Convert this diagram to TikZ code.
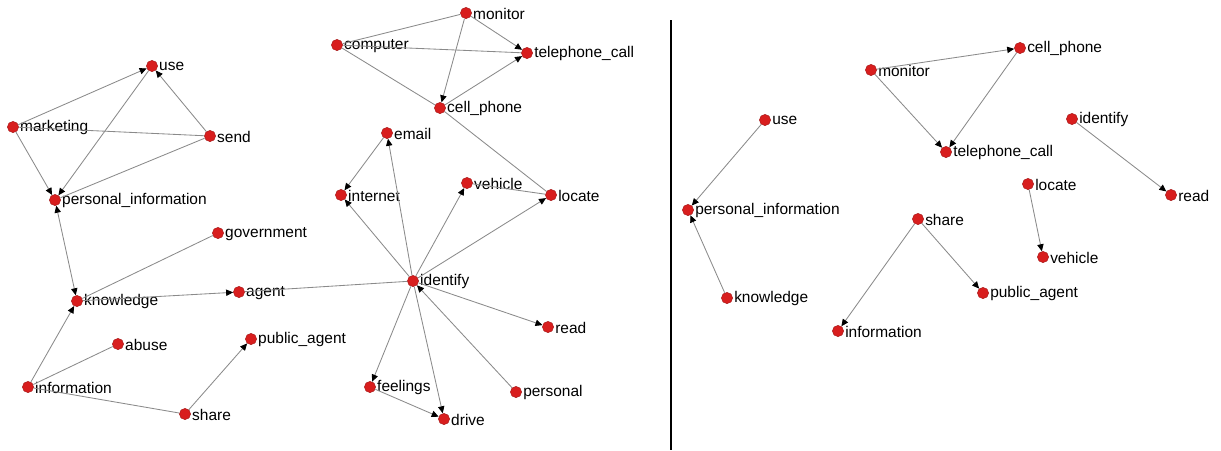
\documentclass[tikz,border=0pt]{standalone}
\usepackage{fontspec}
\setmainfont{Liberation Sans}
\usetikzlibrary{arrows.meta}
\usepackage{xcolor}
\definecolor{ndred}{HTML}{D81E1E}
\definecolor{ndedge}{HTML}{8A8A8A}

\begin{document}
\begin{tikzpicture}[x=0.025cm, y=-0.025cm, font=\fontsize{11}{13}\selectfont,
    vert/.style={circle, fill=ndred, draw=ndred!75!black, line width=0.3pt,
      inner sep=0pt, minimum size=8pt},
    lbl/.style={inner sep=0.8pt, text=black, yshift=-0.5pt},
    tie/.style={draw=ndedge, line width=0.6pt},
    arc/.style={tie, -{Triangle[length=5pt, width=4.5pt, color=black]}},
    arcs/.style={tie, {Triangle[length=5pt, width=4.5pt, color=black]}-{Triangle[length=5pt, width=4.5pt, color=black]}}]
    \useasboundingbox (0,0) rectangle (1221,450);

    % left network
    \node[vert, label={[lbl]right:use}] (use) at (152,66) {};
    \node[vert, label={[lbl]right:marketing}] (marketing) at (13,127) {};
    \node[vert, label={[lbl]right:send}] (send) at (210,136) {};
    \node[vert, label={[lbl]right:personal\_information}] (persinfo) at (55,200) {};
    \node[vert, label={[lbl]right:government}] (government) at (218,233) {};
    \node[vert, label={[lbl]right:knowledge}] (knowledge) at (77,301) {};
    \node[vert, label={[lbl]right:agent}] (agent) at (239,292) {};
    \node[vert, label={[lbl]right:abuse}] (abuse) at (118,344) {};
    \node[vert, label={[lbl]right:information}] (information) at (28,387) {};
    \node[vert, label={[lbl]right:share}] (share) at (185,414) {};
    \node[vert, label={[lbl]right:public\_agent}] (pubagent) at (251,339) {};
    \node[vert, label={[lbl]right:monitor}] (monitor) at (466,13) {};
    \node[vert, label={[lbl]right:computer}] (computer) at (337,45) {};
    \node[vert, label={[lbl]right:telephone\_call}] (telcall) at (527,53) {};
    \node[vert, label={[lbl]right:cell\_phone}] (cellphone) at (440,108) {};
    \node[vert, label={[lbl]right:email}] (email) at (387,133) {};
    \node[vert, label={[lbl]right:internet}] (internet) at (341,195) {};
    \node[vert, label={[lbl]right:vehicle}] (vehicle) at (467,183) {};
    \node[vert, label={[lbl]right:locate}] (locate) at (551,195) {};
    \node[vert, label={[lbl]right:identify}] (identify) at (413,281) {};
    \node[vert, label={[lbl]right:read}] (read) at (548,327) {};
    \node[vert, label={[lbl]right:feelings}] (feelings) at (370,387) {};
    \node[vert, label={[lbl]right:drive}] (drive) at (444,419) {};
    \node[vert, label={[lbl]right:personal}] (personal) at (516,392) {};

    \draw[arc] (marketing) -- (use);
    \draw[arc] (send) -- (use);
    \draw[tie] (marketing) -- (send);
    \draw[arc] (marketing) -- (persinfo);
    \draw[arc] (use) -- (persinfo);
    \draw[tie] (send) -- (persinfo);
    \draw[arcs] (persinfo) -- (knowledge);
    \draw[tie] (knowledge) -- (government);
    \draw[arc] (knowledge) -- (agent);
    \draw[tie] (agent) -- (identify);
    \draw[arc] (information) -- (knowledge);
    \draw[tie] (information) -- (abuse);
    \draw[tie] (information) -- (share);
    \draw[arc] (share) -- (pubagent);
    \draw[tie] (monitor) -- (computer);
    \draw[tie] (computer) -- (telcall);
    \draw[arc] (monitor) -- (telcall);
    \draw[arc] (monitor) -- (cellphone);
    \draw[arc] (cellphone) -- (telcall);
    \draw[tie] (computer) -- (cellphone);
    \draw[tie] (locate) -- (cellphone);
    \draw[arc] (identify) -- (email);
    \draw[arc] (email) -- (internet);
    \draw[arc] (identify) -- (internet);
    \draw[arc] (identify) -- (vehicle);
    \draw[arc] (identify) -- (locate);
    \draw[tie] (vehicle) -- (locate);
    \draw[arc] (identify) -- (read);
    \draw[arc] (identify) -- (feelings);
    \draw[arc] (identify) -- (drive);
    \draw[arc] (feelings) -- (drive);
    \draw[arc] (personal) -- (identify);

    % divider
    \draw[line width=1.2pt] (671,20) -- (671,450);

    % right network
    \node[vert, label={[lbl]right:cell\_phone}] (cellphoneR) at (1020,48) {};
    \node[vert, label={[lbl]right:monitor}] (monitorR) at (871,70) {};
    \node[vert, label={[lbl]right:use}] (useR) at (765,120) {};
    \node[vert, label={[lbl]right:identify}] (identifyR) at (1072,119) {};
    \node[vert, label={[lbl]right:telephone\_call}] (telcallR) at (946,152) {};
    \node[vert, label={[lbl]right:locate}] (locateR) at (1028,184) {};
    \node[vert, label={[lbl]right:read}] (readR) at (1171,195) {};
    \node[vert, label={[lbl]right:personal\_information}] (persinfoR) at (688,210) {};
    \node[vert, label={[lbl]right:share}] (shareR) at (918,219) {};
    \node[vert, label={[lbl]right:vehicle}] (vehicleR) at (1043,257) {};
    \node[vert, label={[lbl]right:public\_agent}] (pubagentR) at (983,293) {};
    \node[vert, label={[lbl]right:knowledge}] (knowledgeR) at (727,298) {};
    \node[vert, label={[lbl]right:information}] (informationR) at (838,331) {};

    \draw[arc] (monitorR) -- (cellphoneR);
    \draw[arc] (monitorR) -- (telcallR);
    \draw[arc] (cellphoneR) -- (telcallR);
    \draw[arc] (useR) -- (persinfoR);
    \draw[arc] (knowledgeR) -- (persinfoR);
    \draw[arc] (identifyR) -- (readR);
    \draw[arc] (locateR) -- (vehicleR);
    \draw[arc] (shareR) -- (informationR);
    \draw[arc] (shareR) -- (pubagentR);
\end{tikzpicture}
\end{document}
